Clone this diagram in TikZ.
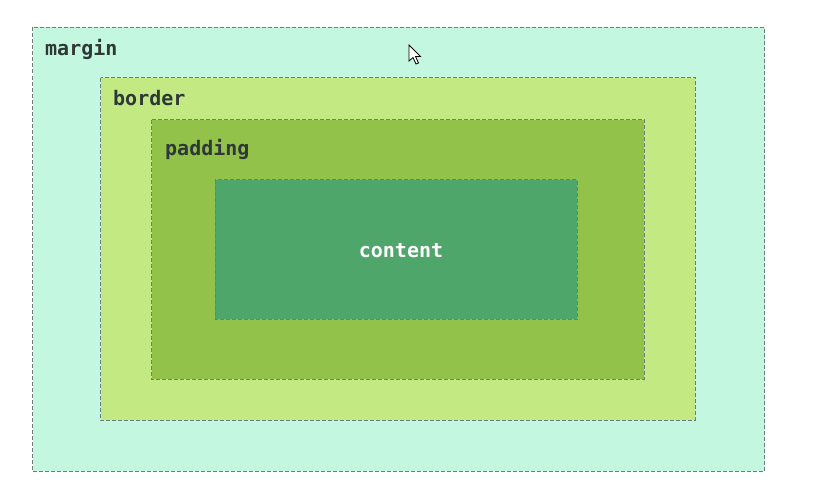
\documentclass[tikz,border=0pt]{standalone}
\usepackage{fontspec}
\setmonofont{DejaVu Sans Mono}
\definecolor{marginc}{HTML}{C3F7E0}
\definecolor{borderc}{HTML}{C2E982}
\definecolor{paddingc}{HTML}{92C24A}
\definecolor{contentc}{HTML}{4FA66A}
\definecolor{dashc}{HTML}{6E7E7E}
\definecolor{txtc}{HTML}{2F3838}
\tikzset{
  boxarea/.style={draw=dashc, line width=0.8pt, dash pattern=on 4pt off 2pt},
  lbl/.style={anchor=base west, inner sep=0pt, font=\fontsize{20}{23}\selectfont\ttfamily\bfseries, text=txtc}
}
\begin{document}
\begin{tikzpicture}[x=1pt,y=-1pt]
\useasboundingbox[fill=white] (0,0) rectangle (824,495);
\path[boxarea, fill=marginc] (32.5,27.5) rectangle (764.5,471);
\path[boxarea, fill=borderc] (100.5,77.5) rectangle (695,420);
\path[boxarea, fill=paddingc] (151.5,119.5) rectangle (644,379);
\path[boxarea, fill=contentc] (215,179.5) rectangle (577,319);
\node[lbl] (m) at (45,56) {margin};
\node[lbl] (b) at (113,105.5) {border};
\node[lbl] (p) at (165,155.5) {padding};
\node[lbl, anchor=base, text=white] (c) at (401,257) {content};
\draw[fill=white, draw=black, line width=0.8pt, line join=miter]
  (409,45) -- (409,61) -- (413,57.5) -- (416,64) -- (418.5,63) -- (415.5,56.5) -- (420.5,56.5) -- cycle;
\end{tikzpicture}
\end{document}
